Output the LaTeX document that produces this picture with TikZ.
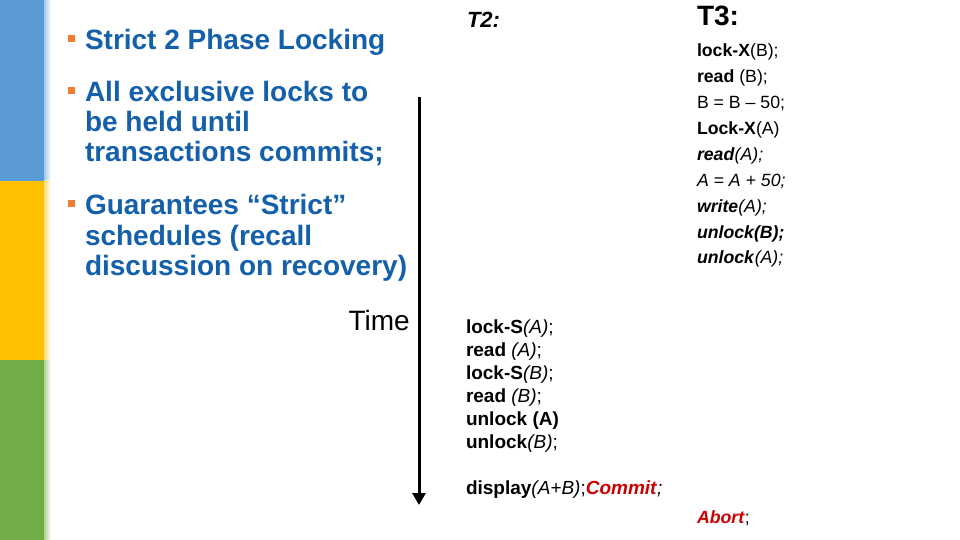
\documentclass[tikz,border=0pt]{standalone}
\usepackage{fontspec}
\setmainfont{Liberation Sans}
\usetikzlibrary{arrows.meta}
\definecolor{barblue}{HTML}{5B9BD5}
\definecolor{baryellow}{HTML}{FFC000}
\definecolor{bargreen}{HTML}{70AD47}
\definecolor{txtblue}{RGB}{20,96,170}
\definecolor{bulorange}{HTML}{ED7D31}
\definecolor{cred}{RGB}{204,0,0}
\newcommand{\bi}[1]{\textbf{\textit{#1}}}
\begin{document}
\begin{tikzpicture}[x=1pt,y=-1pt,
  txt/.style={anchor=base west, inner sep=0pt, outer sep=0pt},
  head/.style={txt, font=\fontsize{28}{30}\selectfont\bfseries, text=txtblue},
  bul/.style={fill=bulorange, minimum size=7pt, inner sep=0pt, outer sep=0pt},
  tthree/.style={txt, font=\fontsize{17.7}{20}\selectfont},
  ttwo/.style={txt, font=\fontsize{19}{22}\selectfont},
  timearrow/.style={line width=3pt, -{Triangle[width=13pt,length=12pt]}},
]
\useasboundingbox (0,0) rectangle (960,540);
\fill[white] (0,0) rectangle (960,540);
% side bars
\fill[barblue] (0,0) rectangle (44,181);
\fill[baryellow] (0,181) rectangle (44,360);
\fill[bargreen] (0,360) rectangle (44,540);
\shade[left color=barblue!55, right color=white] (44,0) rectangle (51,181);
\shade[left color=baryellow!55, right color=white] (44,181) rectangle (51,360);
\shade[left color=bargreen!55, right color=white] (44,360) rectangle (51,540);

% bullets
\node[bul] (s1) at (71,39) {};
\node[head] (h1) at (85,50) {Strict 2 Phase Locking};
\node[bul] (s2) at (71,91) {};
\node[head] (h2a) at (85,102) {All exclusive locks to};
\node[head] (h2b) at (85,132) {be held until};
\node[head] (h2c) at (85,162) {transactions commits;};
\node[bul] (s3) at (71,203) {};
\node[head] (h3a) at (85,214) {Guarantees “Strict”};
\node[head] (h3b) at (85,245) {schedules (recall};
\node[head] (h3c) at (85,275) {discussion on recovery)};

% time axis
\node[anchor=base east, inner sep=0pt, font=\fontsize{28}{30}\selectfont] (time) at (410,330) {Time};
\coordinate (tstart) at (419,97);
\coordinate (tend) at (419,505);
\draw[timearrow] (tstart) -- (tend);

% headers
\node[txt, font=\fontsize{22}{24}\selectfont\bfseries\itshape] (t2) at (467,28) {T2:};
\node[txt, font=\fontsize{28}{30}\selectfont\bfseries] (t3) at (697,26) {T3:};

% T3 lines
\node[tthree] (a1) at (697,56.5) {\textbf{lock-X}(B);};
\node[tthree] (a2) at (697,82.5) {\textbf{read} (B);};
\node[tthree] (a3) at (697,108.5) {B = B – 50;};
\node[tthree] (a4) at (697,134.5) {\textbf{Lock-X}(A)};
\node[tthree] (a5) at (697,160.5) {\bi{read}\textit{(A);}};
\node[tthree] (a6) at (697,186.5) {\textit{A = A + 50;}};
\node[tthree] (a7) at (697,212.5) {\bi{write}\textit{(A);}};
\node[tthree] (a8) at (697,238.5) {\bi{unlock(B);}};
\node[tthree] (a9) at (697,263.5) {\bi{unlock}\textit{(A);}};
\node[tthree] (a10) at (697,523.5) {\textcolor{cred}{\bi{Abort}};};

% T2 lines
\node[ttwo] (b1) at (466,333) {\textbf{lock-S}\textit{(A)};};
\node[ttwo] (b2) at (466,356) {\textbf{read} \textit{(A)};};
\node[ttwo] (b3) at (466,379) {\textbf{lock-S}\textit{(B)};};
\node[ttwo] (b4) at (466,402) {\textbf{read} \textit{(B)};};
\node[ttwo] (b5) at (466,425) {\textbf{unlock (A)}};
\node[ttwo] (b6) at (466,448) {\textbf{unlock}\textit{(B)};};
\node[ttwo] (b7) at (466,494) {\textbf{display}\textit{(A+B)};\textcolor{cred}{\bi{Commit}}\textit{;}};
\end{tikzpicture}
\end{document}
